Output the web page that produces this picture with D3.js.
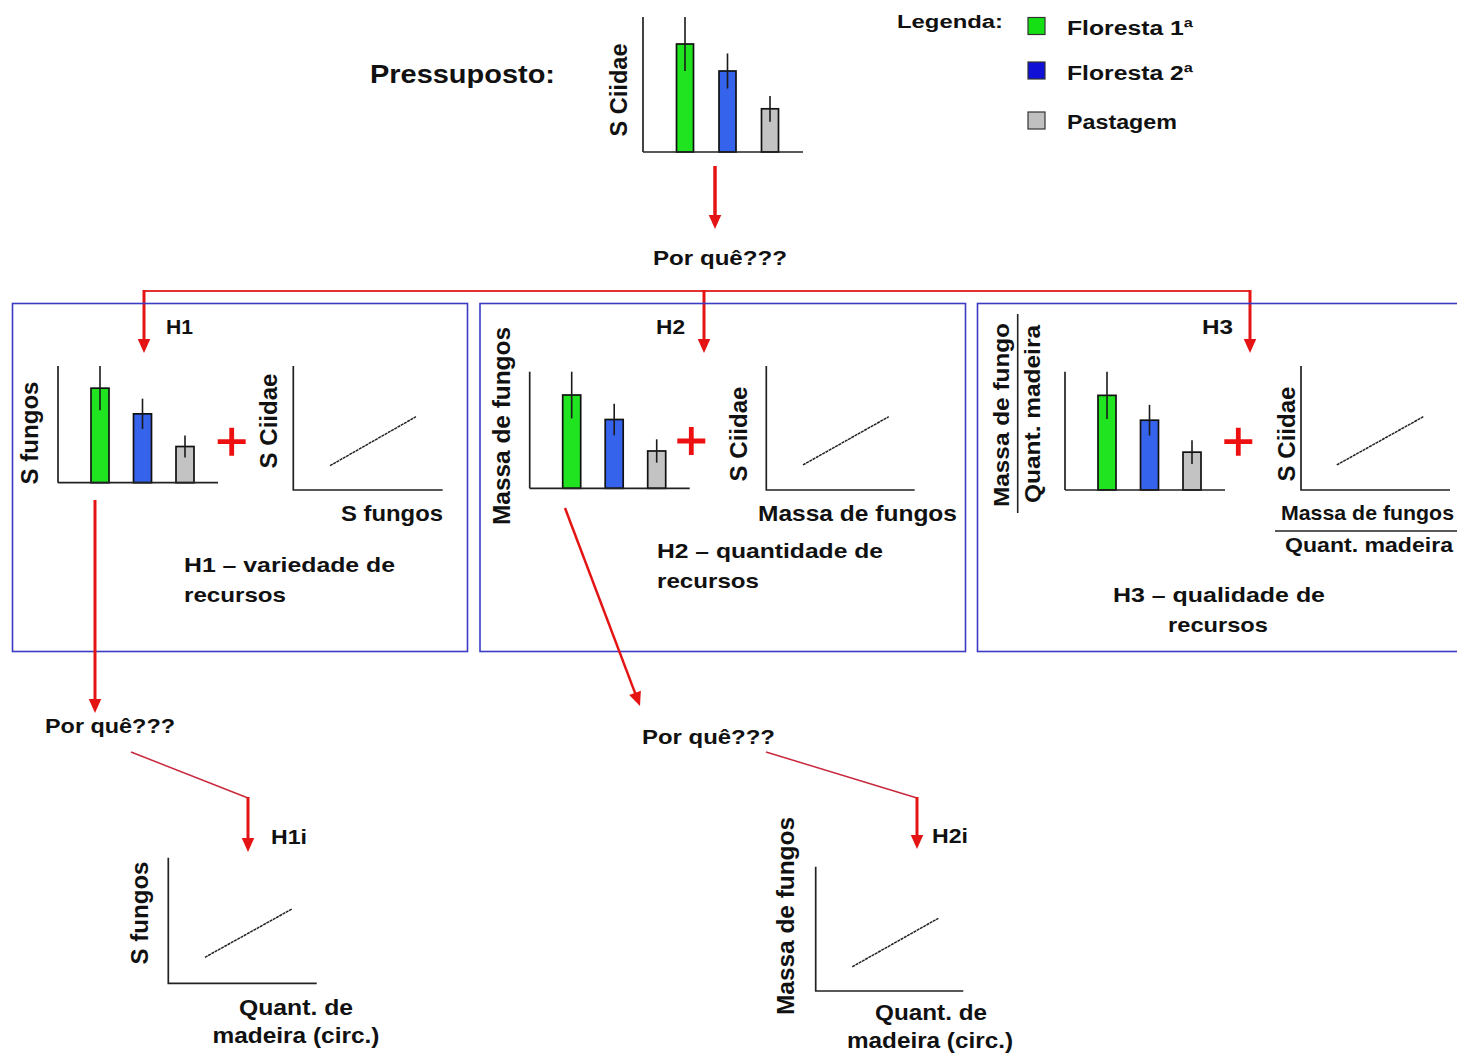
<!DOCTYPE html>
<html><head><meta charset="utf-8">
<script src="https://cdn.jsdelivr.net/npm/d3@7"></script>
<style>body{margin:0;background:#fff}svg{display:block}</style>
</head><body><svg id="c" width="1457" height="1055"></svg>
<script>
// ---------- data ----------
const categories = ["Floresta 1ª", "Floresta 2ª", "Pastagem"];
const barColors = ["#1fe41f", "#3563ec", "#c3c3c3"];
const legendColors = ["#14e014", "#1010d6", "#c0c0c0"];

const pressupostoMeans = [8.0, 6.0, 3.2];
const pressupostoErrs  = [2.0, 1.3, 0.95];
const h1Means = [8.1, 5.9, 3.1];
const h1Errs  = [1.9, 1.3, 0.95];
const h2Means = [8.0, 5.9, 3.2];
const h2Errs  = [2.0, 1.35, 1.0];
const h3Means = [8.0, 5.9, 3.2];
const h3Errs  = [2.0, 1.3, 1.0];

const h1Trend  = [[2.46, 1.96], [8.21, 5.91]];
const h2Trend  = [[2.47, 2.02], [8.25, 5.91]];
const h3Trend  = [[2.40, 2.02], [8.21, 5.91]];
const h1iTrend = [[2.47, 2.07], [8.32, 5.91]];
const h2iTrend = [[2.48, 1.95], [8.31, 5.85]];

// ---------- helpers ----------
const svg = d3.select("#c");
svg.append("rect").attr("width", 1457).attr("height", 1055).attr("fill", "#fff");
const FONT = "'Liberation Sans', Arial, sans-serif";
const INK = "#111";
const RED = "#e41414";

function txt(str, x, y, size, len) {
  const t = svg.append("text").attr("x", x).attr("y", y)
    .attr("font-family", FONT).attr("font-weight", "bold")
    .attr("font-size", size).attr("fill", INK).text(str);
  if (len) t.attr("textLength", len).attr("lengthAdjust", "spacingAndGlyphs");
  return t;
}
function ctxt(str, cx, y, size, len) { return txt(str, cx - len / 2, y, size, len); }
function rtxt(str, bx, cy, size, len) {
  svg.append("text").attr("transform", `translate(${bx},${cy}) rotate(-90)`)
    .attr("x", -len / 2).attr("y", 0)
    .attr("font-family", FONT).attr("font-weight", "bold")
    .attr("font-size", size).attr("fill", INK)
    .attr("textLength", len).attr("lengthAdjust", "spacingAndGlyphs").text(str);
}
function line(x1, y1, x2, y2, color, w) {
  svg.append("line").attr("x1", x1).attr("y1", y1).attr("x2", x2).attr("y2", y2)
    .attr("stroke", color).attr("stroke-width", w);
}
function arrow(x1, y1, x2, y2, w, headL = 14, headW = 12.5) {
  const dx = x2 - x1, dy = y2 - y1, L = Math.hypot(dx, dy);
  const ux = dx / L, uy = dy / L;
  const bx = x2 - ux * headL, by = y2 - uy * headL;
  line(x1, y1, bx + ux * 1, by + uy * 1, RED, w);
  const px = -uy * headW / 2, py = ux * headW / 2;
  svg.append("path").attr("d", `M${x2},${y2}L${bx + px},${by + py}L${bx - px},${by - py}Z`).attr("fill", RED);
}
function plus(cx, cy) {
  const a = 14, t = 2.4;
  svg.append("path").attr("d",
    `M${cx - a},${cy - t}H${cx - t}V${cy - a}H${cx + t}V${cy - t}H${cx + a}V${cy + t}H${cx + t}V${cy + a}H${cx - t}V${cy + t}H${cx - a}Z`)
    .attr("fill", "#ee1010");
}

function barPanel(x0, yTop, yBase, means, errs, bw) {
  const y = d3.scaleLinear().domain([0, 10]).range([yBase, yTop]);
  const x = d3.scalePoint().domain(categories).range([x0 + 42, x0 + 127]);
  const g = svg.append("g");
  const rows = means.map((m, i) => ({ c: categories[i], m, e: errs[i], col: barColors[i] }));
  g.selectAll("rect.bar").data(rows).join("rect").attr("class", "bar")
    .attr("x", d => x(d.c) - bw / 2).attr("width", bw)
    .attr("y", d => y(d.m)).attr("height", d => y(0) - y(d.m))
    .attr("fill", d => d.col).attr("stroke", "#111").attr("stroke-width", 1.7);
  g.selectAll("line.err").data(rows).join("line").attr("class", "err")
    .attr("x1", d => x(d.c)).attr("x2", d => x(d.c))
    .attr("y1", d => y(d.m + d.e)).attr("y2", d => y(d.m - d.e))
    .attr("stroke", "#1a1a1a").attr("stroke-width", 1.6);
  g.append("line").attr("x1", x0).attr("x2", x0).attr("y1", y(10)).attr("y2", y(0))
    .attr("stroke", "#222").attr("stroke-width", 1.7);
  g.append("line").attr("x1", x0).attr("x2", x0 + 160).attr("y1", y(0)).attr("y2", y(0))
    .attr("stroke", "#222").attr("stroke-width", 1.7);
}

function scatterPanel(x0, x1, yTop, yBase, trend) {
  const x = d3.scaleLinear().domain([0, 10]).range([x0, x1]);
  const y = d3.scaleLinear().domain([0, 10]).range([yBase, yTop]);
  const g = svg.append("g");
  g.append("path").attr("d", `M${x(0)},${y(10)}V${y(0)}H${x(10)}`)
    .attr("fill", "none").attr("stroke", "#222").attr("stroke-width", 1.7);
  g.append("path").attr("d", d3.line().x(d => x(d[0])).y(d => y(d[1]))(trend))
    .attr("fill", "none").attr("stroke", "#222").attr("stroke-width", 1.5)
    .attr("stroke-dasharray", "3 0.7");
}

// ---------- top: Pressuposto ----------
txt("Pressuposto:", 370, 83, 25, 185);
barPanel(643, 17, 152, pressupostoMeans, pressupostoErrs, 17);
rtxt("S Ciidae", 627, 90, 23, 93);

// legend
txt("Legenda:", 897, 28, 18, 106);
const legendY = [17.5, 62, 112];
const legendBase = [35, 80, 129];
const legendLen = [126, 126, 110];
categories.forEach((c, i) => {
  svg.append("rect").attr("x", 1028).attr("y", legendY[i]).attr("width", 17).attr("height", 17)
    .attr("fill", legendColors[i]).attr("stroke", "#333").attr("stroke-width", 1.2);
  txt(c, 1067, legendBase[i], 20, legendLen[i]);
});

arrow(715, 166, 715, 229, 3.5);
txt("Por quê???", 653, 265, 21, 134);

// horizontal distributor
line(144, 291, 1251, 291, "#e03030", 2);
arrow(144, 290, 144, 353, 3);
arrow(704, 290, 704, 353, 3);
arrow(1250, 290, 1250, 353, 3);

// ---------- boxes ----------
const boxStroke = "#3a3ac4";
[[12.5, 303.5, 455, 348], [480, 303.5, 485.5, 348], [977.5, 303.5, 520, 348]].forEach(b => {
  svg.append("rect").attr("x", b[0]).attr("y", b[1]).attr("width", b[2]).attr("height", b[3])
    .attr("fill", "none").attr("stroke", boxStroke).attr("stroke-width", 1.6);
});

// H1
txt("H1", 166, 334, 20, 27);
barPanel(58, 366, 482.7, h1Means, h1Errs, 18);
rtxt("S fungos", 38, 433, 23, 103);
plus(231.7, 441.7);
rtxt("S Ciidae", 276.5, 421, 23, 95);
scatterPanel(293.3, 442.7, 366, 490, h1Trend);
txt("S fungos", 341, 521, 22, 102);
txt("H1 – variedade de", 184, 572, 21, 211);
txt("recursos", 184, 602, 21, 102);

// H2
txt("H2", 656, 334, 20, 29);
barPanel(529.7, 371.7, 488.3, h2Means, h2Errs, 18);
rtxt("Massa de fungos", 509.5, 426, 23, 198);
plus(691.3, 441);
rtxt("S Ciidae", 747, 434, 23, 95);
scatterPanel(766.3, 914.7, 366, 490, h2Trend);
txt("Massa de fungos", 758, 521, 22, 199);
txt("H2 – quantidade de", 657, 558, 21, 226);
txt("recursos", 657, 588, 21, 102);

// H3
txt("H3", 1202, 334, 20, 31);
rtxt("Massa de fungo", 1009, 415, 22, 184);
line(1017.7, 314, 1017.7, 513, "#222", 1.6);
rtxt("Quant. madeira", 1039.5, 414, 22, 178);
barPanel(1065, 371.7, 490, h3Means, h3Errs, 18);
plus(1238.3, 441.7);
rtxt("S Ciidae", 1295, 434, 23, 95);
scatterPanel(1301, 1450, 366, 490, h3Trend);
txt("Massa de fungos", 1281, 520, 21, 173);
line(1275, 531, 1470, 531, "#222", 1.6);
txt("Quant. madeira", 1285, 552, 21, 168);
ctxt("H3 – qualidade de", 1219, 602, 21, 212);
ctxt("recursos", 1218, 632, 21, 100);

// ---------- lower level ----------
arrow(95, 500, 95, 713, 3);
txt("Por quê???", 45, 733, 21, 130);
line(131, 752, 248, 798, "#c8283c", 1.5);
arrow(248, 797, 248, 852, 3);
txt("H1i", 271, 844, 20, 36);
rtxt("S fungos", 147.5, 913, 23, 103);
scatterPanel(168.3, 316.7, 857.7, 983.3, h1iTrend);
ctxt("Quant. de", 296, 1015, 22, 114);
ctxt("madeira (circ.)", 296, 1043, 22, 167);

arrow(565, 508, 640, 706, 2.5);
txt("Por quê???", 642, 744, 21, 133);
line(766, 752, 917, 798, "#c8283c", 1.5);
arrow(917, 797, 917, 849, 3);
txt("H2i", 932, 843, 20, 36);
rtxt("Massa de fungos", 794, 916, 23, 198);
scatterPanel(815.7, 963.3, 866.7, 991, h2iTrend);
ctxt("Quant. de", 931, 1020, 22, 112);
ctxt("madeira (circ.)", 930, 1048, 22, 166);
</script>
</body></html>
